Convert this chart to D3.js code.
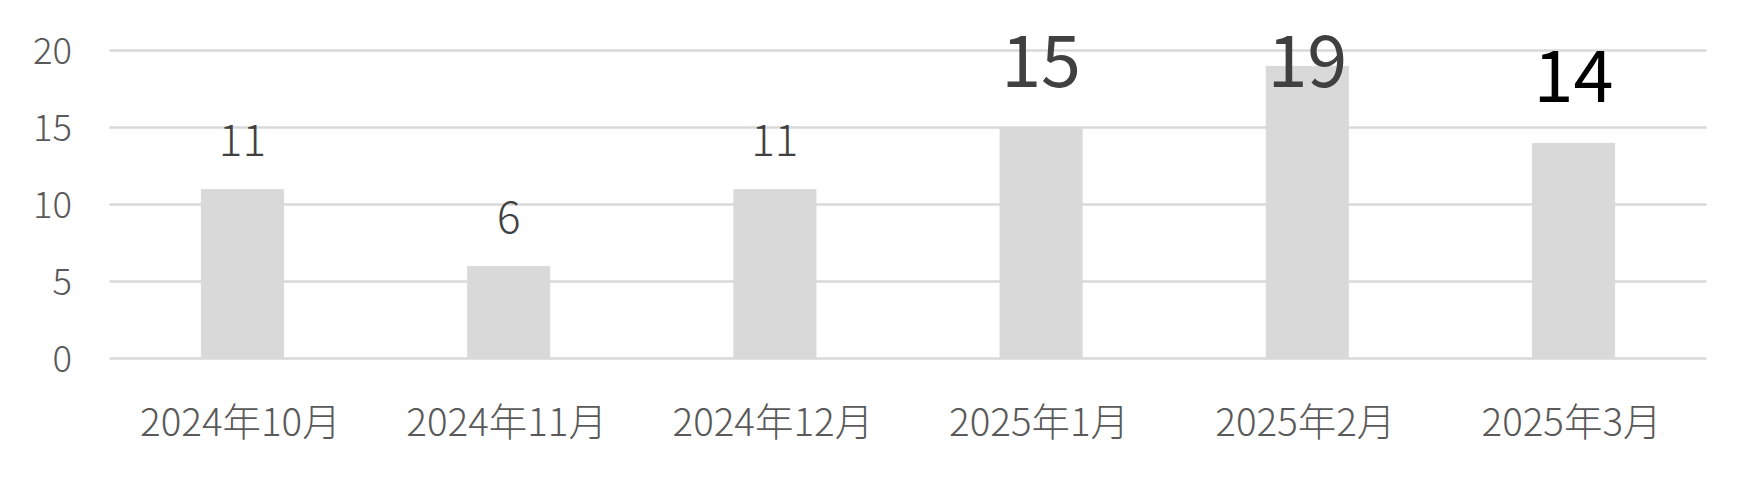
<!DOCTYPE html>
<html>
<head>
<meta charset="utf-8">
<script src="https://cdn.jsdelivr.net/npm/d3@7"></script>
<style>
html,body{margin:0;padding:0;background:#fff;}
svg{display:block;}
</style>
</head>
<body>
<svg id="chart" width="1757" height="484"></svg>
<script>
const categories = ["2024年10月","2024年11月","2024年12月","2025年1月","2025年2月","2025年3月"];
const values = [11, 6, 11, 15, 19, 14];
const yTicks = [0, 5, 10, 15, 20];

// label appearance per point (style, not data)
const labelStyle = [
  {size: 44, color: "#404040", weight: 300, gap: 33},
  {size: 44, color: "#404040", weight: 300, gap: 33},
  {size: 44, color: "#404040", weight: 300, gap: 33},
  {size: 72, color: "#404040", weight: 400, gap: 41},
  {size: 72, color: "#404040", weight: 400, gap: 41},
  {size: 72, color: "#000000", weight: 400, gap: 41}
];

(function () {
const FONT = "'Noto Sans CJK JP','Noto Sans',sans-serif";
const svg = d3.select("#chart");
const mLeft = 109.3, mRight = 1706.7, mTop = 50.5, mBottom = 358.5;

const x = d3.scaleBand().domain(categories).range([mLeft, mRight])
  .paddingInner(0.688).paddingOuter(0.344);
const y = d3.scaleLinear().domain([0, 20]).range([mBottom, mTop]);

// gridlines
svg.append("g").selectAll("line").data(yTicks).join("line")
  .attr("x1", mLeft).attr("x2", mRight)
  .attr("y1", d => y(d)).attr("y2", d => y(d))
  .attr("stroke", "#d9d9d9").attr("stroke-width", 2.6);

// y tick labels
svg.append("g").selectAll("text").data(yTicks).join("text")
  .attr("x", 72).attr("y", d => y(d) + 13.4)
  .attr("text-anchor", "end")
  .attr("font-family", FONT).attr("font-size", 36.5).attr("font-weight", 300)
  .attr("fill", "#595959")
  .text(d => d);

// bars
svg.append("g").selectAll("rect").data(values).join("rect")
  .attr("x", (d, i) => x(categories[i]))
  .attr("width", x.bandwidth())
  .attr("y", d => y(d))
  .attr("height", d => y(0) - y(d))
  .attr("fill", "#d9d9d9");

// x labels
svg.append("g").selectAll("text").data(categories).join("text")
  .attr("x", d => x(d) + x.bandwidth() / 2 - 2)
  .attr("y", 435.5)
  .attr("text-anchor", "middle")
  .attr("font-family", FONT).attr("font-size", 38.5).attr("font-weight", 300)
  .attr("fill", "#595959")
  .text(d => d);

// data labels
svg.append("g").selectAll("text").data(values).join("text")
  .attr("x", (d, i) => x(categories[i]) + x.bandwidth() / 2)
  .attr("y", (d, i) => Math.max(y(d) - labelStyle[i].gap, 86.7))
  .attr("text-anchor", "middle")
  .attr("font-family", FONT)
  .attr("font-size", (d, i) => labelStyle[i].size)
  .attr("font-weight", (d, i) => labelStyle[i].weight)
  .attr("fill", (d, i) => labelStyle[i].color)
  .text(d => d);
})();
</script>
</body>
</html>
